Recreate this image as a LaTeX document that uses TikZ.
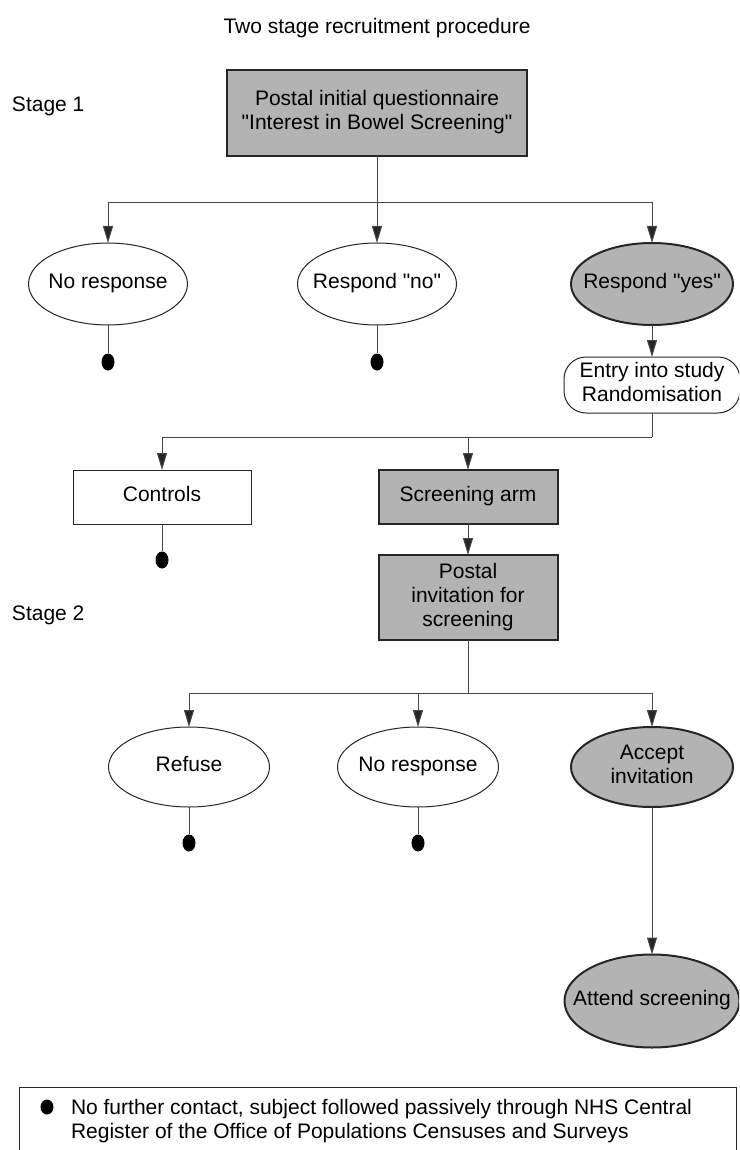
\documentclass[tikz,border=0pt]{standalone}
\usepackage{fontspec}
\setmainfont{Liberation Sans}[Ligatures=TeXOff]
\usetikzlibrary{arrows.meta,shapes.geometric}
\definecolor{fillgray}{RGB}{179,179,179}
\definecolor{linegray}{RGB}{70,70,70}
\newcommand{\zw}[1]{\makebox[0pt][c]{\begin{tabular}{@{}c@{}}#1\end{tabular}}}
\tikzset{
  base/.style={font=\fontsize{21}{24}\selectfont, inner sep=0pt, outer sep=0pt},
  whitebox/.style={base, draw=black!85, line width=1pt, fill=white, rectangle},
  graybox/.style={base, draw=black!85, line width=2pt, fill=fillgray, rectangle},
  whiteell/.style={base, draw=black!85, line width=1pt, fill=white, ellipse},
  grayell/.style={base, draw=black!85, line width=2pt, fill=fillgray, ellipse},
  conn/.style={draw=linegray, line width=1pt},
  arr/.style={conn, -{Triangle[length=17pt,width=10pt,fill=black!85]}},
  enddot/.style={fill=black, draw=none, ellipse, minimum width=13pt, minimum height=17pt, inner sep=0pt},
  plain/.style={base}
}
\begin{document}
\begin{tikzpicture}[x=1pt,y=1pt]
\useasboundingbox (0,0) rectangle (739,-1150);
\clip (0,0) rectangle (739,-1150);
% title and stage labels
\node[plain] (title) at (377,-28) {Two stage recruitment procedure};
\node[plain, anchor=west] (stage1) at (12,-106) {Stage 1};
\node[plain, anchor=west] (stage2) at (12,-615) {Stage 2};
% stage 1
\node[graybox, minimum width=300pt, minimum height=86pt] (q1) at (377,-113) {\zw{Postal initial questionnaire\\"Interest in Bowel Screening"}};
\coordinate (j1) at (377,-203);
\node[whiteell, minimum width=159pt, minimum height=82pt] (nr1) at (108,-284) {\zw{No response}};
\node[whiteell, minimum width=159pt, minimum height=82pt] (rno) at (377,-284) {\zw{Respond "no"}};
\node[grayell, minimum width=162pt, minimum height=82pt] (ryes) at (652,-284) {\zw{Respond "yes"}};
\node[enddot] (d1) at (108,-362) {};
\node[enddot] (d2) at (377,-362) {};
\node[whitebox, rounded corners=22pt, minimum width=176pt, minimum height=56pt] (entry) at (652,-385) {\zw{Entry into study\\Randomisation}};
\coordinate (j2) at (652,-437);
\node[whitebox, minimum width=178pt, minimum height=54pt] (controls) at (162,-497) {\zw{Controls}};
\node[graybox, minimum width=179pt, minimum height=54pt] (sarm) at (468,-497) {\zw{Screening arm}};
\node[enddot] (d3) at (162,-560) {};
\node[graybox, minimum width=179pt, minimum height=85pt] (pinv) at (468,-597.5) {\zw{Postal\\invitation for\\screening}};
\coordinate (j3) at (468,-693);
% stage 2
\node[whiteell, minimum width=161pt, minimum height=80pt] (refuse) at (189,-767) {\zw{Refuse}};
\node[whiteell, minimum width=161pt, minimum height=80pt] (nr2) at (418,-767) {\zw{No response}};
\node[grayell, minimum width=162pt, minimum height=80pt] (accept) at (652,-767) {\zw{Accept\\invitation}};
\node[enddot] (d4) at (189,-843) {};
\node[enddot] (d5) at (418,-843) {};
\node[grayell, minimum width=175pt, minimum height=93pt] (attend) at (652,-1001) {\zw{Attend screening}};
% connectors
\draw[conn] (q1.south) -- (j1);
\draw[arr] (j1) -| (nr1.north);
\draw[arr] (j1) -- (rno.north);
\draw[arr] (j1) -| (ryes.north);
\draw[conn] (nr1.south) -- (d1.north);
\draw[conn] (rno.south) -- (d2.north);
\draw[arr] (ryes.south) -- (entry.north);
\draw[conn] (entry.south) -- (j2);
\draw[arr] (j2) -| (controls.north);
\draw[arr] (sarm.north |- j2) -- (sarm.north);
\draw[conn] (controls.south) -- (d3.north);
\draw[arr] (sarm.south) -- (pinv.north);
\draw[conn] (pinv.south) -- (j3);
\draw[arr] (j3) -| (refuse.north);
\draw[arr] (nr2.north |- j3) -- (nr2.north);
\draw[arr] (j3) -| (accept.north);
\draw[conn] (refuse.south) -- (d4.north);
\draw[conn] (nr2.south) -- (d5.north);
\draw[arr] (accept.south) -- (attend.north);
% legend
\node[draw=black!85, line width=1pt, rectangle, minimum width=717pt, minimum height=90pt, anchor=north west, inner sep=0pt] (legend) at (19,-1087) {};
\node[enddot, minimum width=13pt, minimum height=15pt] (ld) at (47,-1107) {};
\node[plain, anchor=west, align=left] (ltext) at (71,-1121) {No further contact, subject followed passively through NHS Central\\Register of the Office of Populations Censuses and Surveys};
\end{tikzpicture}
\end{document}
